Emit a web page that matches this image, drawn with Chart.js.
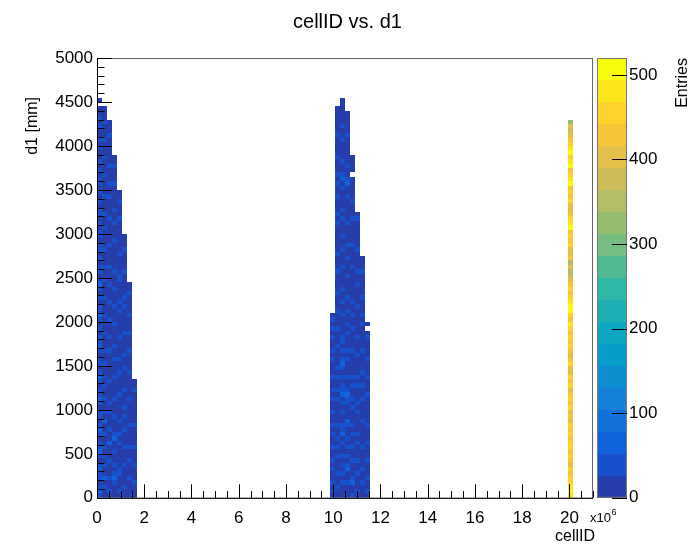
<!DOCTYPE html>
<html>
<head>
<meta charset="utf-8">
<title>cellID vs. d1</title>
<script src="https://cdn.jsdelivr.net/npm/chart.js@4.4.1/dist/chart.umd.min.js"></script>
<style>
    html, body { margin: 0; padding: 0; background: #fff; }
    #wrap { width: 695px; height: 544px; }
</style>
</head>
<body>
<div id="wrap"><canvas id="hist2d" width="695" height="544"></canvas></div>
<script>
// binning of the 2D histogram (100 x 100 bins)
const xBinWidth = 210000;   // cellID
const yBinWidth = 50;       // d1 [mm]
const zLevelStep = 26;      // 20 colour contours, 0 .. 520 entries
const zLevelCount = 20;

// each string is one cellID column, read bottom -> top, one char per d1 bin
// char = contour level (base 36), '.' = empty bin
const leftStartBin = 0;
const leftColumns = [
    '1210112101' + '2110121011' + '0121101210' + '1101211010' + '1211010121' + '0110101101' + '1010110101' + '0110101001' + '010010100' + '.0',
    '0010200101' + '0100100201' + '0010010100' + '1001000100' + '0100010001' + '0010001000' + '0100100010' + '0001000100' + '010001000',
    '0100100010' + '0020010001' + '0100001000' + '0001001000' + '1000100010' + '0010000100' + '0001000010' + '0100010000' + '001000',
    '0001210100' + '1002100010' + '0010000100' + '0100100001' + '0001000100' + '0100000010' + '0010010000' + '01000100',
    '0100011000' + '0010100100' + '0001000010' + '0100001000' + '0010100001' + '1000010000' + '0001000100',
    '0010000100' + '0100010010' + '1000100001' + '0010000100' + '0001010000' + '0100001000',
    '0000100010' + '0100001000' + '0010000010' + '0001000100' + '010000100',
    '0001000100' + '0100001000' + '0000100',
];

const middleStartBin = 47;
const middleColumns = [
    '0101001010' + '0100101001' + '0010100100' + '0101001010' + '10',
    '0010010001' + '0101001000' + '0010100101' + '0000100010' + '0010001000' + '0100010000' + '0010100010' + '0101000100' + '001000000',
    '0001010101' + '0010211001' + '0102110101' + '2101011000' + '0100100100' + '0010001001' + '0001010000' + '1021001000' + '0100100000' + '0',
    '0001002101' + '0101001200' + '0112100100' + '0101000101' + '0010010000' + '1000100100' + '0010000010' + '0210010000' + '00100000',
    '1002100010' + '0100101000' + '1010010100' + '0001000010' + '0100100000' + '0010000100' + '0001000100' + '000.0000',
    '0100010010' + '0010100001' + '0100010100' + '0010001000' + '0001000010' + '0100001000' + '00010',
    '0001001000' + '0100000100' + '0010010010' + '0001000001' + '0100010000' + '01000',
    '0100100010' + '0010001000' + '0001000100' + '01000010.0',
];

const stripStartBin = 95;
const stripColumns = [
    'ijihhghfgh' + 'ghhghghfgf' + 'hghgfhghff' + 'hgfghghghi' + 'ghjjihghgf' + 'edfdgffhgh' + 'gjihgffhgh' + 'gjihgjihji' + 'hgfefc',
];

const xTickStep = 500000;
const xLabelStep = 2000000;
const yTickStep = 100;
const yLabelStep = 500;
const zTickStep = 100;

// ROOT kBird palette stops
const birdStops = [0, 0.125, 0.25, 0.375, 0.5, 0.625, 0.75, 0.875, 1];
const birdR = [0.2082, 0.0592, 0.0780, 0.0232, 0.1802, 0.5301, 0.8186, 0.9956, 0.9764];
const birdG = [0.1664, 0.3599, 0.5041, 0.6419, 0.7178, 0.7492, 0.7328, 0.7862, 0.9832];
const birdB = [0.5293, 0.8684, 0.8385, 0.7914, 0.6425, 0.4662, 0.3499, 0.1968, 0.0539];

function birdColor(t) {
    let i = 0;
    while (i < birdStops.length - 2 && t > birdStops[i + 1]) i++;
    const f = (t - birdStops[i]) / (birdStops[i + 1] - birdStops[i]);
    const c = arr => Math.round(255 * (arr[i] + (arr[i + 1] - arr[i]) * f));
    return `rgb(${c(birdR)},${c(birdG)},${c(birdB)})`;
}

function levelColor(level) {
    return birdColor(Math.min(1, (level + 0.99) / zLevelCount));
}

// turn the column strings into bin points for the dataset
function columnsToPoints(columns, startBin) {
    const pts = [];
    columns.forEach((col, c) => {
        const bin = startBin + c;
        for (let r = 0; r < col.length; r++) {
            if (col[r] === '.') continue;
            const level = parseInt(col[r], 36);
            pts.push({
                x: (bin + 0.5) * xBinWidth,
                y: (r + 0.5) * yBinWidth,
                level,
                entries: level * zLevelStep + zLevelStep / 2,
            });
        }
    });
    return pts;
}

const cells = [
    ...columnsToPoints(leftColumns, leftStartBin),
    ...columnsToPoints(middleColumns, middleStartBin),
    ...columnsToPoints(stripColumns, stripStartBin),
];

const FONT = '"Liberation Sans", Arial, Helvetica, sans-serif';
Chart.defaults.font.family = FONT;
Chart.defaults.color = '#000';

// draws the COLZ boxes, colour bar, inner ticks and axis titles
const colzPlugin = {
    id: 'colz',
    beforeDatasetsDraw(chart) {
        const { ctx, chartArea: area } = chart;
        const xs = chart.scales.x;
        const ys = chart.scales.y;
        const zs = chart.scales.z;
        ctx.save();
        ctx.beginPath();
        ctx.rect(area.left, area.top, area.right - area.left, area.bottom - area.top);
        ctx.clip();
        chart.data.datasets[0].data.forEach(p => {
            const x0 = Math.round(xs.getPixelForValue(p.x - xBinWidth / 2));
            const x1 = Math.round(xs.getPixelForValue(p.x + xBinWidth / 2));
            const y0 = Math.round(ys.getPixelForValue(p.y - yBinWidth / 2));
            const y1 = Math.round(ys.getPixelForValue(p.y + yBinWidth / 2));
            ctx.fillStyle = levelColor(p.level);
            ctx.fillRect(x0, y1, x1 - x0, y0 - y1);
        });
        ctx.restore();

        // palette
        const barL = area.right + 4;
        const barR = area.right + 34;
        ctx.save();
        for (let i = 0; i < zLevelCount; i++) {
            const yLo = Math.round(zs.getPixelForValue(i * zLevelStep));
            const yHi = Math.round(zs.getPixelForValue((i + 1) * zLevelStep));
            ctx.fillStyle = levelColor(i);
            ctx.fillRect(barL, yHi, barR - barL, yLo - yHi);
        }
        ctx.strokeStyle = '#777';
        ctx.lineWidth = 1;
        ctx.strokeRect(barL + 0.5, area.top + 0.5, barR - barL - 1, area.bottom - area.top - 1);
        ctx.strokeStyle = '#000';
        zs.ticks.forEach(t => {
            const py = Math.round(zs.getPixelForValue(t.value)) + 0.5;
            ctx.beginPath();
            ctx.moveTo(barR, py);
            ctx.lineTo(barR - 15, py);
            ctx.stroke();
        });
        ctx.restore();
    },
    afterDatasetsDraw(chart) {
        const { ctx, chartArea: area } = chart;
        const xs = chart.scales.x;
        const ys = chart.scales.y;
        ctx.save();
        ctx.lineWidth = 1;
        // frame
        ctx.strokeStyle = '#666';
        ctx.strokeRect(area.left + 0.5, area.top + 0.5, area.right - area.left - 1, area.bottom - area.top);
        ctx.strokeStyle = '#000';
        ctx.beginPath();
        ctx.moveTo(area.left + 0.5, area.top);
        ctx.lineTo(area.left + 0.5, area.bottom + 0.5);
        ctx.lineTo(area.right, area.bottom + 0.5);
        ctx.stroke();
        // inner ticks
        ctx.beginPath();
        xs.ticks.forEach(t => {
            const px = Math.round(xs.getPixelForValue(t.value)) + 0.5;
            const len = t.label !== '' ? 13.5 : 6.7;
            ctx.moveTo(px, area.bottom);
            ctx.lineTo(px, area.bottom - len);
        });
        ys.ticks.forEach(t => {
            const py = Math.round(ys.getPixelForValue(t.value)) + 0.5;
            const len = t.label !== '' ? 15 : 7.5;
            ctx.moveTo(area.left, py);
            ctx.lineTo(area.left + len, py);
        });
        ctx.stroke();

        // axis titles
        ctx.fillStyle = '#000';
        ctx.font = `16px ${FONT}`;
        ctx.textBaseline = 'middle';
        ctx.textAlign = 'right';
        ctx.fillText('cellID', area.right + 2, 537);

        ctx.save();
        ctx.translate(33, 97);
        ctx.rotate(-Math.PI / 2);
        ctx.fillText('d1 [mm]', 0, 0);
        ctx.restore();

        ctx.save();
        ctx.translate(683, area.top);
        ctx.rotate(-Math.PI / 2);
        ctx.fillText('Entries', 0, 0);
        ctx.restore();

        // exponent of the cellID axis
        ctx.textAlign = 'left';
        ctx.textBaseline = 'alphabetic';
        ctx.font = `13px ${FONT}`;
        ctx.fillText('x10', area.right - 3, 522);
        const w = ctx.measureText('x10').width;
        ctx.font = `9px ${FONT}`;
        ctx.fillText('6', area.right - 3 + w + 0.5, 515);
        ctx.restore();
    },
};

const config = {
    type: 'scatter',
    data: {
        datasets: [{
            label: 'cellID vs. d1',
            data: cells,
            pointRadius: 0,
            pointHoverRadius: 0,
            showLine: false,
        }],
    },
    options: {
        responsive: false,
        animation: false,
        events: [],
        layout: { padding: { left: 0, right: 0, top: 0, bottom: 0 } },
        plugins: {
            legend: { display: false },
            tooltip: { enabled: false },
            title: {
                display: true,
                text: 'cellID vs. d1',
                color: '#000',
                font: { size: 20, weight: 'normal', family: FONT },
                padding: { top: 10, bottom: 24 },
            },
        },
        scales: {
            x: {
                type: 'linear',
                position: 'bottom',
                min: 0,
                max: 100 * xBinWidth,
                border: { display: false },
                grid: { display: false, drawTicks: false },
                ticks: {
                    stepSize: xTickStep,
                    autoSkip: false,
                    maxTicksLimit: 200,
                    maxRotation: 0,
                    minRotation: 0,
                    padding: 10,
                    color: '#000',
                    font: { size: 17 },
                    callback: v => (Math.abs(v % xLabelStep) < 1 ? String(Math.round(v / 1e6)) : ''),
                },
                afterFit(scale) { scale.height = 41; },
            },
            y: {
                type: 'linear',
                position: 'left',
                min: 0,
                max: 100 * yBinWidth,
                border: { display: false },
                grid: { display: false, drawTicks: false },
                ticks: {
                    stepSize: yTickStep,
                    autoSkip: false,
                    maxTicksLimit: 200,
                    padding: 4,
                    color: '#000',
                    font: { size: 17 },
                    callback: v => (v % yLabelStep === 0 ? String(v) : ''),
                },
                afterFit(scale) { scale.width = 97; },
            },
            z: {
                type: 'linear',
                axis: 'y',
                position: 'right',
                min: 0,
                max: zLevelCount * zLevelStep,
                border: { display: false },
                grid: { display: false, drawTicks: false },
                ticks: {
                    stepSize: zTickStep,
                    includeBounds: false,
                    autoSkip: false,
                    padding: 36,
                    color: '#000',
                    font: { size: 17 },
                    callback: v => String(v),
                },
                afterFit(scale) { scale.width = 102; },
            },
        },
    },
    plugins: [colzPlugin],
};

const chart = new Chart(document.getElementById('hist2d').getContext('2d'), config);
</script>
</body>
</html>
